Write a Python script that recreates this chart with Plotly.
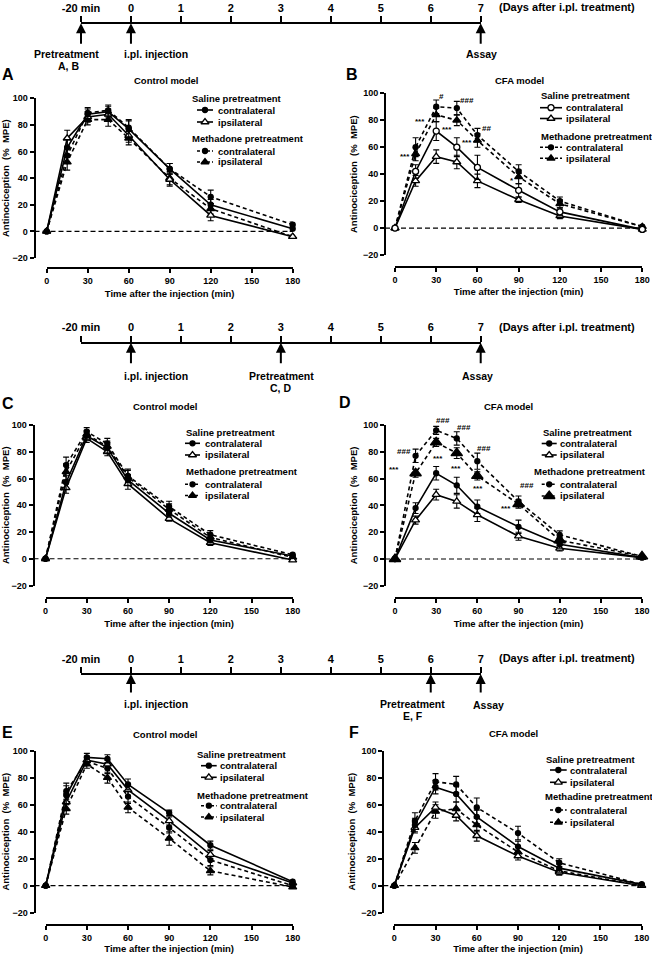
import plotly.graph_objects as go

W, H = 652, 954
FONT = "Liberation Sans, Arial, sans-serif"


def px(x):
    return x / W


def py(y):
    return 1 - y / H


# ---------------- data ----------------
time_min = [0, 15, 30, 45, 60, 90, 120, 180]
x_tick_vals = [0, 30, 60, 90, 120, 150, 180]
y_tick_vals = [-20, 0, 20, 40, 60, 80, 100]

timeline_tick_vals = [-1, 0, 1, 2, 3, 4, 5, 6, 7]
timeline_tick_text = ["-20 min", "0", "1", "2", "3", "4", "5", "6", "7"]

# Panel A (control model, pretreatment -20 min)
A_sal_contra = [0, 63, 88, 90, 77, 47, 20, 2]
A_sal_contra_err = [0, 6, 4, 4, 6, 4, 4, 2]
A_sal_ipsi = [0, 70, 86, 88, 72, 39, 12, -4]
A_sal_ipsi_err = [0, 6, 4, 4, 5, 5, 4, 1]
A_meth_contra = [0, 57, 89, 91, 78, 47, 26, 5]
A_meth_contra_err = [0, 6, 4, 4, 6, 4, 5, 2]
A_meth_ipsi = [0, 52, 84, 84, 70, 40, 17, -4]
A_meth_ipsi_err = [0, 6, 4, 5, 5, 5, 4, 1]

# Panel B (CFA model, pretreatment -20 min)
B_sal_contra = [0, 42, 72, 60, 45, 28, 12, -1]
B_sal_contra_err = [0, 5, 7, 7, 9, 5, 3, 1]
B_sal_ipsi = [0, 35, 53, 49, 35, 21, 9, -1]
B_sal_ipsi_err = [0, 4, 5, 5, 5, 2, 2, 1]
B_meth_contra = [0, 60, 90, 89, 69, 42, 20, 1]
B_meth_contra_err = [0, 7, 5, 5, 5, 5, 3, 1]
B_meth_ipsi = [0, 55, 84, 80, 65, 38, 18, 1]
B_meth_ipsi_err = [0, 5, 5, 4, 5, 5, 3, 1]

# Panel C (control model, pretreatment day 3)
C_sal_contra = [0, 57, 92, 83, 59, 34, 14, 2]
C_sal_contra_err = [0, 5, 3, 4, 4, 3, 2, 1]
C_sal_ipsi = [0, 53, 90, 80, 56, 30, 12, -1]
C_sal_ipsi_err = [0, 4, 3, 3, 4, 2, 2, 1]
C_meth_contra = [0, 70, 95, 86, 62, 39, 18, 3]
C_meth_contra_err = [0, 6, 3, 4, 5, 4, 3, 1]
C_meth_ipsi = [0, 65, 93, 84, 61, 37, 16, 1]
C_meth_ipsi_err = [0, 6, 3, 4, 5, 4, 2, 1]

# Panel D (CFA model, pretreatment day 3)
D_sal_contra = [0, 38, 64, 55, 39, 24, 11, 1]
D_sal_contra_err = [0, 4, 5, 6, 5, 5, 3, 1]
D_sal_ipsi = [0, 29, 48, 43, 33, 17, 8, 1]
D_sal_ipsi_err = [0, 3, 4, 5, 5, 3, 2, 1]
D_meth_contra = [0, 77, 96, 90, 73, 43, 18, 2]
D_meth_contra_err = [0, 5, 3, 5, 6, 4, 3, 1]
D_meth_ipsi = [0, 64, 87, 79, 62, 41, 14, 2]
D_meth_ipsi_err = [0, 3, 3, 4, 3, 3, 2, 1]

# Panel E (control model, pretreatment day 6)
E_sal_contra = [0, 67, 95, 94, 75, 54, 30, 3]
E_sal_contra_err = [0, 7, 3, 3, 4, 2, 3, 1]
E_sal_ipsi = [0, 62, 93, 90, 71, 48, 23, 2]
E_sal_ipsi_err = [0, 6, 3, 3, 4, 3, 3, 1]
E_meth_contra = [0, 70, 92, 87, 66, 43, 19, 0]
E_meth_contra_err = [0, 6, 3, 4, 5, 4, 4, 1]
E_meth_ipsi = [0, 57, 90, 80, 58, 35, 11, -1]
E_meth_ipsi_err = [0, 4, 3, 4, 4, 5, 3, 1]

# Panel F (CFA model, pretreatment day 6)
F_sal_contra = [0, 45, 73, 68, 51, 29, 13, 1]
F_sal_contra_err = [0, 5, 5, 6, 5, 4, 3, 1]
F_sal_ipsi = [0, 43, 58, 52, 37, 22, 10, 0]
F_sal_ipsi_err = [0, 4, 4, 4, 4, 3, 2, 1]
F_meth_contra = [0, 48, 77, 75, 58, 39, 17, 1]
F_meth_contra_err = [0, 6, 6, 6, 7, 5, 3, 1]
F_meth_ipsi = [0, 28, 55, 57, 45, 25, 11, 0]
F_meth_ipsi_err = [0, 4, 5, 5, 5, 4, 3, 1]

series_keys = ["sal_contra", "sal_ipsi", "meth_contra", "meth_ipsi"]
legend_names = ["contralateral", "ipsilateral", "contralateral", "ipsilateral"]

# significance marks: (text, series, time index, xshift, yshift)
B_sig = [("***", "meth_ipsi", 2, -16, -5), ("***", "meth_ipsi", 1, -11, -1),
         ("***", "meth_ipsi", 3, -10, -7), ("***", "meth_ipsi", 4, -10, 0),
         ("*", "meth_ipsi", 5, -7, -2), ("#", "meth_contra", 2, 5, 10),
         ("###", "meth_contra", 3, 10, 8), ("##", "meth_contra", 4, 9, 7)]
D_sig = [("###", "meth_contra", 1, -12, 4), ("***", "meth_ipsi", 1, -22, 6),
         ("###", "meth_contra", 2, 7, 10), ("***", "meth_ipsi", 2, 2, -14),
         ("###", "meth_contra", 3, 7, 11), ("***", "meth_ipsi", 3, -1, -13),
         ("###", "meth_contra", 4, 7, 13), ("***", "meth_ipsi", 4, 1, -11),
         ("###", "meth_contra", 5, 8, 16), ("***", "meth_ipsi", 5, -13, -2)]

# ---------------- styles ----------------
DASH = "4px,3px"
BASE_STYLE = {
    "sal_contra": dict(dash="solid", symbol="circle", filled=True, size=5),
    "sal_ipsi": dict(dash="solid", symbol="triangle-up", filled=False, size=7),
    "meth_contra": dict(dash=DASH, symbol="circle", filled=True, size=5),
    "meth_ipsi": dict(dash=DASH, symbol="triangle-up", filled=True, size=7),
}

panels = [
    dict(letter="A", title="Control model", letter_xy=(8, 75), title_xy=(166, 80),
         x0=46.7, x1=292.7, ytop=98.3, ybot=258, yline_x=34.5, xline_y=268.3,
         data={"sal_contra": (A_sal_contra, A_sal_contra_err), "sal_ipsi": (A_sal_ipsi, A_sal_ipsi_err),
               "meth_contra": (A_meth_contra, A_meth_contra_err), "meth_ipsi": (A_meth_ipsi, A_meth_ipsi_err)},
         legend=dict(tx0=190, rows=[99, 110, 122, 139, 151, 162], sx=(197, 213), tx=216, tx0b=190),
         meth_label="Methadone pretreatment", override={}, sig=[]),
    dict(letter="B", title="CFA model", letter_xy=(352, 75), title_xy=(519, 80),
         x0=395, x1=642.3, ytop=93.3, ybot=255, yline_x=385, xline_y=266.7,
         data={"sal_contra": (B_sal_contra, B_sal_contra_err), "sal_ipsi": (B_sal_ipsi, B_sal_ipsi_err),
               "meth_contra": (B_meth_contra, B_meth_contra_err), "meth_ipsi": (B_meth_ipsi, B_meth_ipsi_err)},
         legend=dict(tx0=539, rows=[95.7, 107.7, 118.5, 136.7, 147.3, 158.3], sx=(540, 562), tx=564, tx0b=539),
         meth_label="Methadone pretreatment", override={"sal_contra": dict(filled=False, size=6)}, sig=B_sig),
    dict(letter="C", title="Control model", letter_xy=(8, 403), title_xy=(165, 406.5),
         x0=45.5, x1=292.7, ytop=425, ybot=585.5, yline_x=33.5, xline_y=598.3,
         data={"sal_contra": (C_sal_contra, C_sal_contra_err), "sal_ipsi": (C_sal_ipsi, C_sal_ipsi_err),
               "meth_contra": (C_meth_contra, C_meth_contra_err), "meth_ipsi": (C_meth_ipsi, C_meth_ipsi_err)},
         legend=dict(tx0=184, rows=[432.5, 443.3, 455, 471.7, 484.3, 495.5], sx=(185, 200), tx=203, tx0b=184),
         meth_label="Methadone pretreatment", override={}, sig=[]),
    dict(letter="D", title="CFA model", letter_xy=(344.5, 402), title_xy=(508, 407),
         x0=395, x1=642, ytop=425, ybot=585.8, yline_x=385, xline_y=598.3,
         data={"sal_contra": (D_sal_contra, D_sal_contra_err), "sal_ipsi": (D_sal_ipsi, D_sal_ipsi_err),
               "meth_contra": (D_meth_contra, D_meth_contra_err), "meth_ipsi": (D_meth_ipsi, D_meth_ipsi_err)},
         legend=dict(tx0=540.7, rows=[432.5, 443.5, 455, 471.7, 484.3, 496], sx=(541.7, 556.7), tx=558, tx0b=531.7),
         meth_label="Methadone pretreatment", override={"meth_ipsi": dict(size=10)}, sig=D_sig),
    dict(letter="E", title="Control model", letter_xy=(7.5, 732), title_xy=(165.5, 734),
         x0=45.7, x1=292.7, ytop=750.7, ybot=912.7, yline_x=34.5, xline_y=925,
         data={"sal_contra": (E_sal_contra, E_sal_contra_err), "sal_ipsi": (E_sal_ipsi, E_sal_ipsi_err),
               "meth_contra": (E_meth_contra, E_meth_contra_err), "meth_ipsi": (E_meth_ipsi, E_meth_ipsi_err)},
         legend=dict(tx0=195, rows=[754, 765.7, 777.3, 795, 805.7, 817], sx=(201, 216.7), tx=218, tx0b=195),
         meth_label="Methadone pretreatment", override={}, sig=[]),
    dict(letter="F", title="CFA model", letter_xy=(354, 732), title_xy=(513, 733.5),
         x0=394.3, x1=641.7, ytop=750.7, ybot=912.7, yline_x=383.3, xline_y=925,
         data={"sal_contra": (F_sal_contra, F_sal_contra_err), "sal_ipsi": (F_sal_ipsi, F_sal_ipsi_err),
               "meth_contra": (F_meth_contra, F_meth_contra_err), "meth_ipsi": (F_meth_ipsi, F_meth_ipsi_err)},
         legend=dict(tx0=544, rows=[759, 770, 782.3, 796.7, 810, 822.3], sx=(550, 566.7), tx=568, tx0b=543.3),
         meth_label="Methadine pretreatment", override={}, sig=[]),
]

timelines = [
    dict(line_y=23.3, tail=22,
         arrows=[-1, 0, 7],
         texts=[("Pretreatment", 66.8, 54.5), ("A, B", 68.3, 66), ("i.pl. injection", 155.5, 54.5), ("Assay", 481, 54.5)]),
    dict(line_y=342.7, tail=22,
         arrows=[0, 3, 7],
         texts=[("i.pl. injection", 155.5, 375.5), ("Pretreatment", 281, 375.5), ("C, D", 280.5, 387.5), ("Assay", 477, 376)]),
    dict(line_y=674, tail=20,
         arrows=[0, 6, 7],
         texts=[("i.pl. injection", 155.5, 703.5), ("Pretreatment", 412.5, 704), ("E, F", 413, 716), ("Assay", 488, 704.5)]),
]

# ---------------- figure ----------------
fig = go.Figure()
layout = dict(
    template="none",
    width=W, height=H, autosize=False,
    margin=dict(l=0, r=0, t=0, b=0, pad=0),
    paper_bgcolor="white", plot_bgcolor="rgba(0,0,0,0)",
    showlegend=False, font=dict(family=FONT, color="black"),
)
annotations = []
shapes = []


def bold(size):
    return dict(family=FONT, size=size, color="black", weight="bold")


def marker_for(st):
    return dict(symbol=st["symbol"], size=st["size"],
                color="black" if st["filled"] else "white",
                line=dict(color="black", width=1.3))


for i, p in enumerate(panels, start=1):
    xa = "xaxis" if i == 1 else f"xaxis{i}"
    ya = "yaxis" if i == 1 else f"yaxis{i}"
    xr = "x" if i == 1 else f"x{i}"
    yr = "y" if i == 1 else f"y{i}"
    layout[xa] = dict(
        domain=[px(p["x0"]), px(p["x1"])], range=[0, 180], anchor="free", position=py(p["xline_y"]),
        automargin=False,
        tickmode="array", tickvals=x_tick_vals, ticks="outside", ticklen=4, tickwidth=1.5, tickcolor="black",
        showline=True, linewidth=2, linecolor="black", showgrid=False, zeroline=False,
        tickfont=bold(9), title=dict(text="Time after the injection (min)", font=bold(9.5), standoff=4),
    )
    layout[ya] = dict(
        domain=[py(p["ybot"]), py(p["ytop"])], range=[-20, 100], anchor="free", position=px(p["yline_x"]),
        automargin=False,
        tickmode="array", tickvals=y_tick_vals, ticks="outside", ticklen=4, tickwidth=1.5, tickcolor="black",
        showline=True, linewidth=2, linecolor="black", showgrid=False, zeroline=False,
        tickfont=bold(9), title=dict(text="Antinociception\u00a0\u00a0(%\u00a0\u00a0MPE)", font=bold(9.5), standoff=3),
    )
    # dashed zero line
    shapes.append(dict(type="line", xref="paper", yref=yr, x0=px(p["yline_x"]), x1=px(p["x1"]),
                       y0=0, y1=0, line=dict(color="black", width=1.2, dash="5px,3px"), layer="below"))
    styles = {k: dict(BASE_STYLE[k], **p["override"].get(k, {})) for k in series_keys}
    for k in ["meth_ipsi", "meth_contra", "sal_ipsi", "sal_contra"]:
        vals, err = p["data"][k]
        st = styles[k]
        fig.add_trace(go.Scatter(
            x=time_min, y=vals, mode="lines+markers", xaxis=xr, yaxis=yr, cliponaxis=False,
            line=dict(color="black", width=1.6, dash=st["dash"]), marker=marker_for(st),
            error_y=dict(type="data", array=err, visible=True, color="black", thickness=1.1, width=3),
            name=k, showlegend=False, hoverinfo="skip",
        ))
    # letter & title
    annotations.append(dict(text=p["letter"], x=px(p["letter_xy"][0]), y=py(p["letter_xy"][1]), xref="paper",
                            yref="paper", showarrow=False, font=bold(16), xanchor="center", yanchor="middle"))
    annotations.append(dict(text=p["title"], x=px(p["title_xy"][0]), y=py(p["title_xy"][1]), xref="paper",
                            yref="paper", showarrow=False, font=bold(9.5), xanchor="center", yanchor="middle"))
    # significance marks
    for txt, key, idx, dx, dy in p["sig"]:
        vals = p["data"][key][0]
        extra = -2 if "*" in txt else 0
        annotations.append(dict(text=txt, x=time_min[idx], y=vals[idx], xref=xr, yref=yr, showarrow=False,
                                xshift=dx, yshift=dy + extra, font=bold(8), xanchor="center", yanchor="middle"))
    # legend (samples drawn on the full-page canvas axes)
    lg = p["legend"]
    rows = lg["rows"]
    annotations.append(dict(text="Saline pretreatment", x=px(lg["tx0"]), y=py(rows[0]), xref="paper", yref="paper",
                            showarrow=False, font=bold(9.5), xanchor="left", yanchor="middle"))
    annotations.append(dict(text=p["meth_label"], x=px(lg["tx0b"]), y=py(rows[3]), xref="paper", yref="paper",
                            showarrow=False, font=bold(9.5), xanchor="left", yanchor="middle"))
    for k, name, ry in zip(series_keys, legend_names, [rows[1], rows[2], rows[4], rows[5]]):
        st = styles[k]
        sx0, sx1 = lg["sx"]
        fig.add_trace(go.Scatter(x=[sx0, sx1], y=[ry, ry], mode="lines", xaxis="x10", yaxis="y10",
                                 line=dict(color="black", width=1.6, dash="3px,2px" if st["dash"] != "solid" else "solid"),
                                 showlegend=False, hoverinfo="skip", cliponaxis=False))
        fig.add_trace(go.Scatter(x=[(sx0 + sx1) / 2], y=[ry], mode="markers", xaxis="x10", yaxis="y10",
                                 marker=marker_for(st), showlegend=False, hoverinfo="skip", cliponaxis=False))
        annotations.append(dict(text=name, x=px(lg["tx"]), y=py(ry), xref="paper", yref="paper", showarrow=False,
                                font=bold(9.5), xanchor="left", yanchor="middle"))

# canvas axes (pixel coordinates of the whole page, for legend samples)
layout["xaxis10"] = dict(domain=[0, 1], range=[0, W], visible=False, anchor="y10", fixedrange=True, automargin=False)
layout["yaxis10"] = dict(domain=[0, 1], range=[H, 0], visible=False, anchor="x10", fixedrange=True, automargin=False)

# timelines
for j, t in enumerate(timelines):
    n = 7 + j
    xa, ya = f"xaxis{n}", f"yaxis{n}"
    layout[xa] = dict(
        domain=[px(81), px(480.7)], range=[-1, 7], anchor="free", position=py(t["line_y"]), side="top",
        automargin=False,
        tickmode="array", tickvals=timeline_tick_vals, ticktext=timeline_tick_text,
        ticks="outside", ticklen=6, tickwidth=2, tickcolor="black",
        showline=True, linewidth=2, linecolor="black", showgrid=False, zeroline=False,
        tickfont=bold(11), fixedrange=True,
    )
    layout[ya] = dict(domain=[py(t["line_y"] + 2), py(t["line_y"] - 2)], range=[0, 1], visible=False,
                      anchor=f"x{n}", fixedrange=True, automargin=False)
    fig.add_trace(go.Scatter(x=[-1, 7], y=[0.5, 0.5], mode="markers", marker=dict(opacity=0),
                             xaxis=f"x{n}", yaxis=f"y{n}", showlegend=False, hoverinfo="skip"))
    annotations.append(dict(text="(Days after i.pl. treatment)", x=px(497), y=py(t["line_y"] - 16), xref="paper",
                            yref="paper", showarrow=False, font=bold(11), xanchor="left", yanchor="middle"))
    for d in t["arrows"]:
        annotations.append(dict(text="", x=d, y=py(t["line_y"]), xref=f"x{n}", yref="paper",
                                showarrow=True, ax=0, ay=t["tail"], axref="pixel", ayref="pixel",
                                arrowhead=2, arrowsize=1, arrowwidth=2, arrowcolor="black", standoff=0))
    for txt, tx, ty in t["texts"]:
        annotations.append(dict(text=txt, x=px(tx), y=py(ty), xref="paper", yref="paper", showarrow=False,
                                font=bold(10.5), xanchor="center", yanchor="middle"))

layout["annotations"] = annotations
layout["shapes"] = shapes
fig.update_layout(**layout)

fig.write_html("out.html", config={"displayModeBar": False},
               post_script="document.body.style.margin='0';")
